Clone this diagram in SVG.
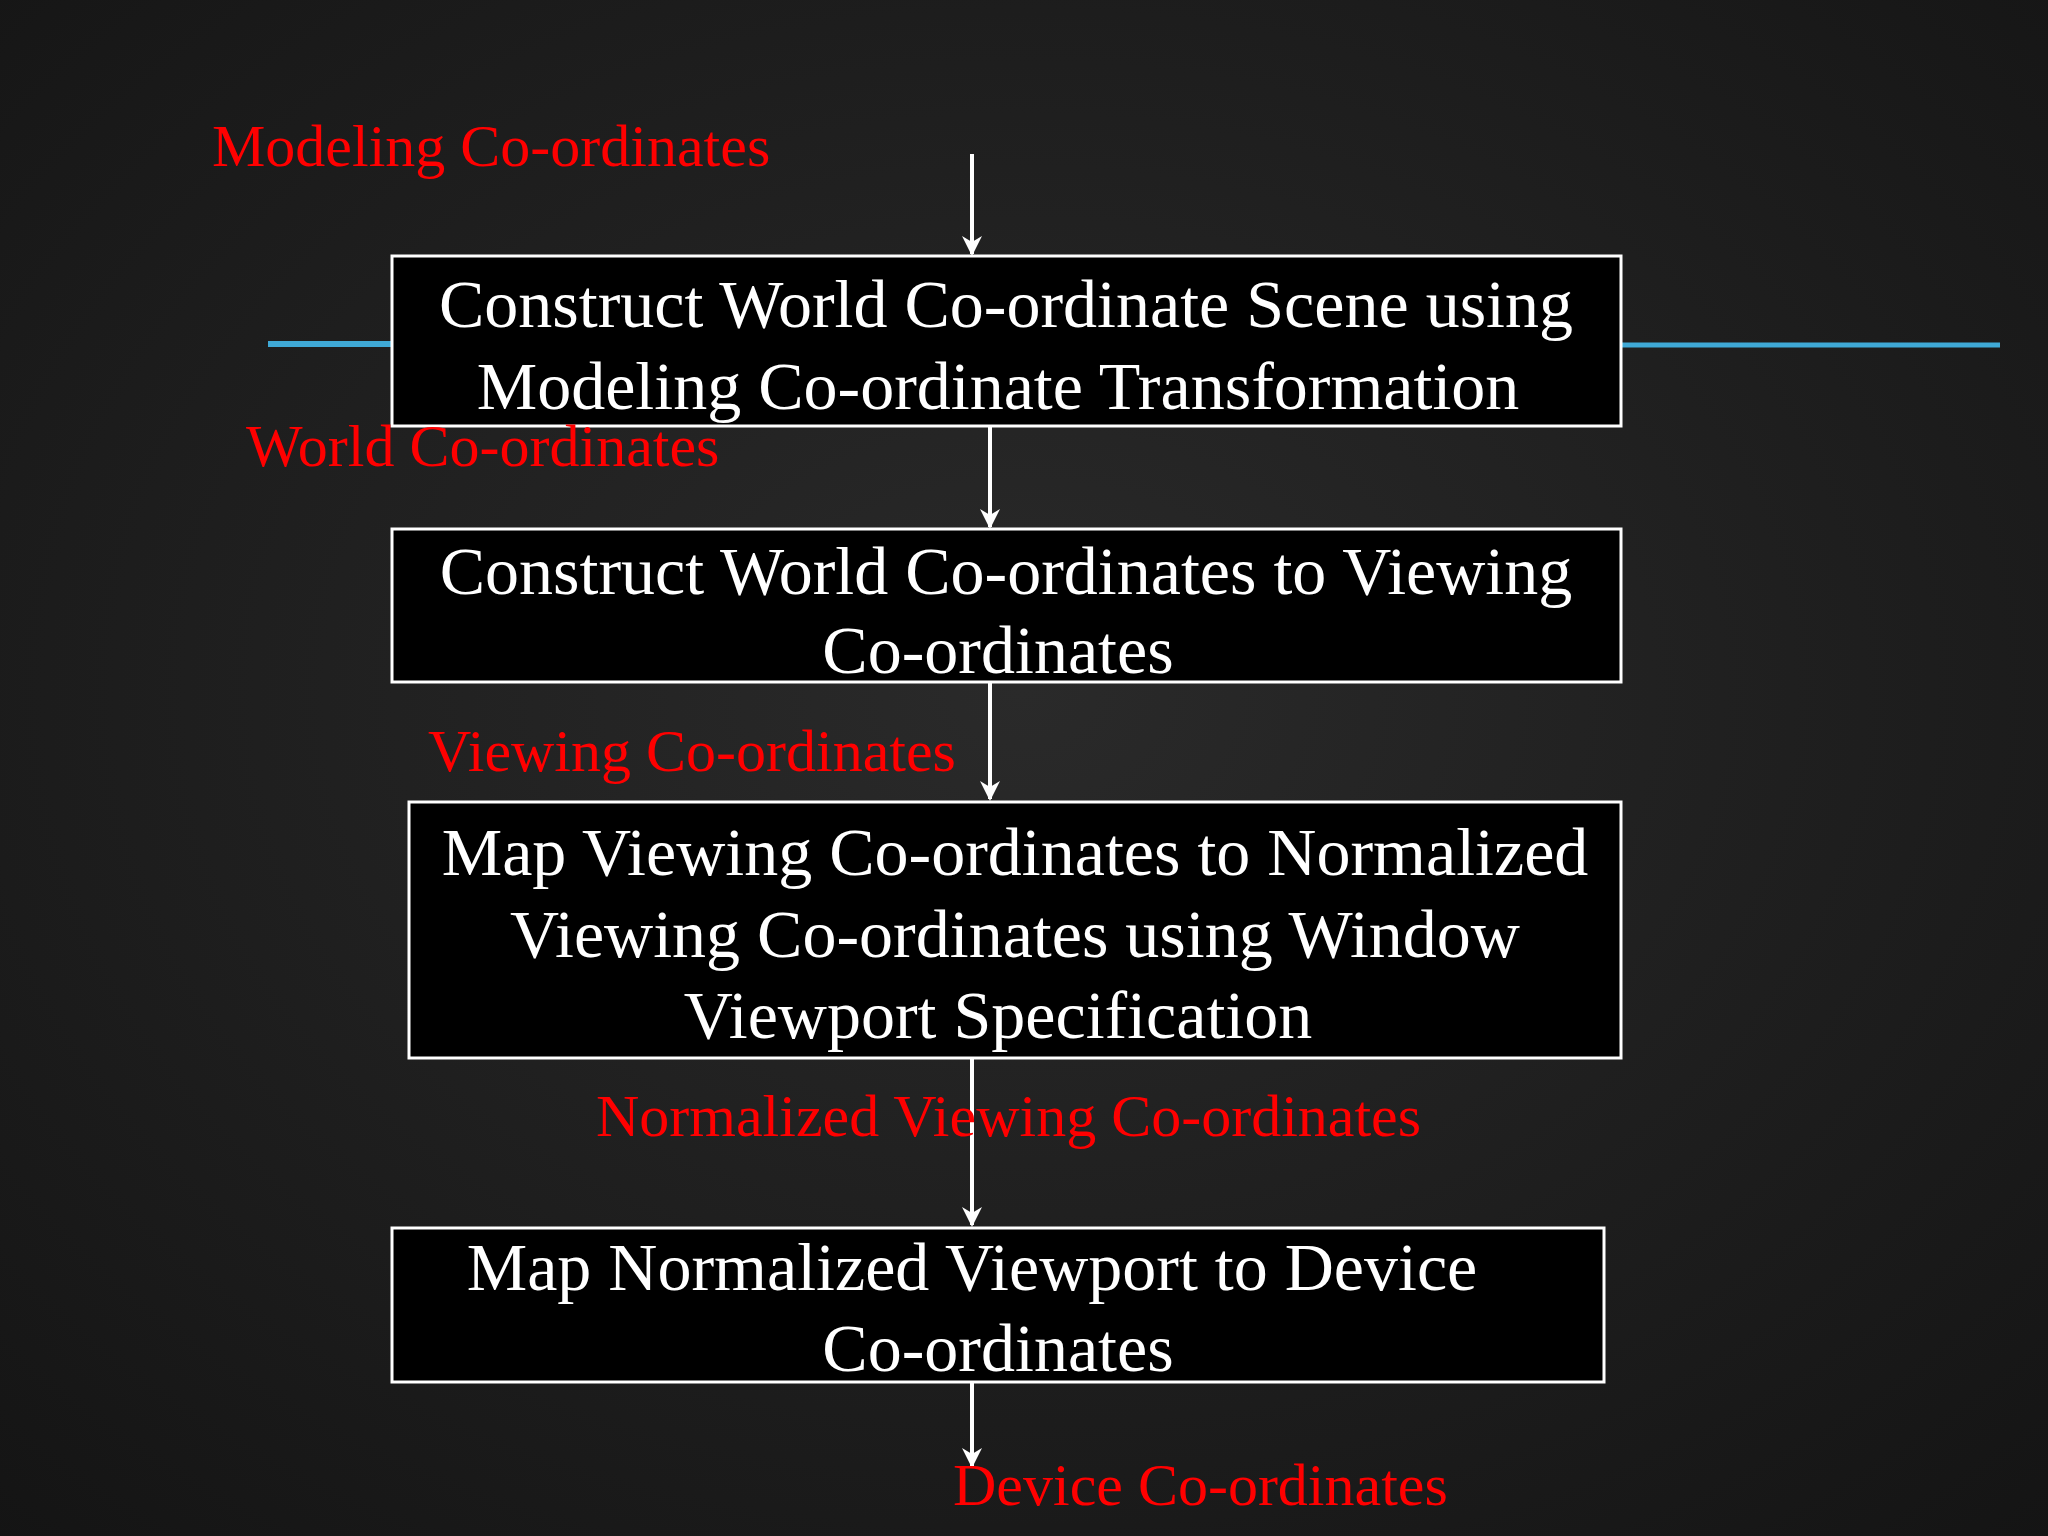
<svg xmlns="http://www.w3.org/2000/svg" width="2048" height="1536" viewBox="0 0 2048 1536">
<style>
.box{fill:#000;stroke:#fff;stroke-width:3}
.t{font-family:"Liberation Serif",serif;font-size:68px;fill:#fff;text-anchor:middle}
.r{font-family:"Liberation Serif",serif;font-size:60px;fill:#ff0000}
.c{stroke:#fff;stroke-width:4;fill:none;marker-end:url(#a)}
</style>
<defs>
<marker id="a" viewBox="0 0 10 10" refX="9" refY="5" markerWidth="5" markerHeight="5" orient="auto"><path d="M0,0 L10,5 L0,10 L3,5 z" fill="#fff"/></marker>
<radialGradient id="bg" cx="0.5" cy="0.45" r="0.75"><stop offset="0" stop-color="#2a2a2a"/><stop offset="1" stop-color="#141414"/></radialGradient>
</defs>
<rect width="2048" height="1536" fill="url(#bg)"/>
<g id="deco">
<line x1="268" y1="344" x2="392" y2="344" stroke="#3fa9d6" stroke-width="6"/>
<line x1="1621" y1="345" x2="2000" y2="345" stroke="#3fa9d6" stroke-width="5"/>
</g>
<g id="connectors">
<line class="c" x1="972" y1="154" x2="972" y2="254"/>
<line class="c" x1="990" y1="426" x2="990" y2="527"/>
<line class="c" x1="990" y1="682" x2="990" y2="799"/>
<line class="c" x1="972" y1="1058" x2="972" y2="1225"/>
<line class="c" x1="972" y1="1382" x2="972" y2="1466"/>
</g>
<g id="n1"><rect class="box" x="392" y="256" width="1229" height="170"/>
<text class="t" x="1006" y="327">Construct World Co-ordinate Scene using</text>
<text class="t" x="998" y="409">Modeling Co-ordinate Transformation</text></g>
<g id="n2"><rect class="box" x="392" y="529" width="1229" height="153"/>
<text class="t" x="1006" y="594">Construct World Co-ordinates to Viewing</text>
<text class="t" x="998" y="673">Co-ordinates</text></g>
<g id="n3"><rect class="box" x="409" y="802" width="1212" height="256"/>
<text class="t" x="1015" y="875">Map Viewing Co-ordinates to Normalized</text>
<text class="t" x="1015" y="957">Viewing Co-ordinates using Window</text>
<text class="t" x="998" y="1038">Viewport Specification</text></g>
<g id="n4"><rect class="box" x="392" y="1228" width="1212" height="154"/>
<text class="t" x="972" y="1290">Map Normalized Viewport to Device</text>
<text class="t" x="998" y="1371">Co-ordinates</text></g>
<g id="labels">
<text class="r" x="212" y="166">Modeling Co-ordinates</text>
<text class="r" x="246" y="466">World Co-ordinates</text>
<text class="r" x="428" y="771">Viewing Co-ordinates</text>
<text class="r" x="596" y="1136">Normalized Viewing Co-ordinates</text>
<text class="r" x="953" y="1505">Device Co-ordinates</text>
</g>
</svg>
